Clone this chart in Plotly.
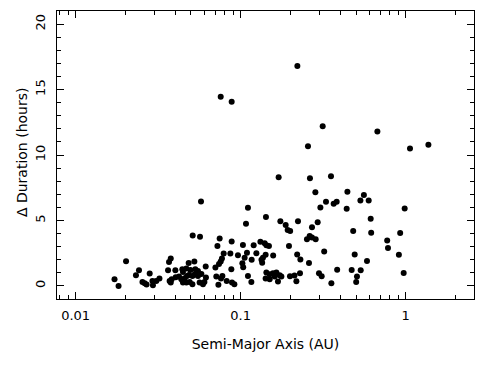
import plotly.graph_objects as go

# Semi-major axis (AU)
semi_major_axis = [
    0.0172, 0.0182, 0.0202, 0.0232, 0.0242, 0.0254, 0.0262, 0.0269, 0.0281, 0.0292,
    0.0294, 0.0308, 0.0322, 0.0368, 0.0377, 0.0363, 0.0371, 0.0377, 0.0382, 0.0402,
    0.0404, 0.0423, 0.0437, 0.0458, 0.0473, 0.0486, 0.0510, 0.0526, 0.0551, 0.0578,
    0.0443, 0.0469, 0.0496, 0.0531, 0.0551, 0.0447, 0.0447, 0.0469, 0.0491, 0.0510,
    0.0564, 0.0591, 0.0603, 0.0616, 0.0484, 0.0524, 0.0614, 0.0512, 0.0567, 0.0575,
    0.0757, 0.0882, 0.0746, 0.0723, 0.0882, 0.0789, 0.0866, 0.0963, 0.0770, 0.0757,
    0.0739, 0.0703, 0.0878, 0.0712, 0.0733, 0.0760, 0.0775, 0.0823, 0.0886, 0.0916,
    0.1032, 0.1199, 0.1317, 0.1398, 0.1431, 0.1484, 0.1962, 0.1092, 0.1245, 0.1365,
    0.1417, 0.1574, 0.1057, 0.1166, 0.1337, 0.1350, 0.1024, 0.1036, 0.2200, 0.1107,
    0.1161, 0.1431, 0.1499, 0.1570, 0.1646, 0.1724, 0.1417, 0.1499, 0.1607, 0.1765,
    0.1683, 0.1990, 0.2119, 0.1107, 0.1077, 0.1423, 0.1740, 0.1874, 0.1927, 0.1995,
    0.2225, 0.1699, 0.2206, 0.2522, 0.2619, 0.2705, 0.2848, 0.3207, 0.2300, 0.2594,
    0.4908, 0.3844, 0.4707, 0.2288, 0.2176, 0.2982, 0.3097, 0.3545, 0.5012, 0.5068,
    0.4807, 0.2705, 0.2929, 0.2836, 0.3041, 0.3289, 0.3661, 0.3818, 0.4390, 0.4434,
    0.5582, 0.5316, 0.5968, 0.2630, 0.3526, 0.2558, 0.3141, 0.6738, 0.986, 0.6137,
    0.6179, 0.926, 0.7725, 0.7811, 0.9094, 0.5828, 0.5338, 0.9725, 1.062, 1.373,
]

# Delta duration (hours)
delta_duration = [
    0.51, 0.00, 1.88, 0.81, 1.20, 0.30, 0.21, 0.11, 0.94, 0.38,
    0.05, 0.38, 0.56, 1.83, 2.09, 1.20, 0.38, 0.26, 0.51, 1.20,
    0.66, 0.72, 0.51, 0.59, 0.76, 0.84, 0.76, 0.87, 0.76, 0.91,
    1.27, 1.33, 1.22, 1.27, 1.14, 1.07, 0.26, 0.26, 0.30, 0.13,
    0.26, 0.13, 0.30, 0.64, 1.75, 1.86, 1.48, 3.86, 3.76, 6.45,
    14.45, 14.07, 3.63, 3.05, 3.40, 2.47, 2.47, 2.34, 2.09, 1.86,
    1.68, 1.40, 1.27, 0.72, 0.08, 0.56, 0.76, 0.38, 0.26, 0.13,
    3.12, 3.10, 3.38, 3.25, 3.10, 3.05, 3.05, 2.54, 2.49, 2.16,
    2.38, 2.32, 2.15, 2.00, 2.00, 1.77, 1.73, 1.42, 2.39, 0.76,
    0.30, 1.02, 0.89, 0.97, 1.02, 0.81, 0.56, 0.51, 0.72, 0.72,
    0.34, 0.74, 0.79, 5.97, 4.75, 5.26, 4.93, 4.65, 4.28, 4.20,
    4.93, 8.30, 16.79, 3.56, 3.81, 3.69, 3.56, 2.62, 2.01, 1.75,
    2.39, 1.23, 1.22, 0.97, 0.36, 0.97, 0.74, 0.21, 0.30, 0.72,
    4.20, 4.49, 4.87, 7.16, 5.99, 6.43, 6.28, 6.43, 5.89, 7.19,
    6.95, 6.53, 6.53, 8.23, 8.38, 10.66, 12.19, 11.80, 5.92, 5.13,
    4.07, 4.05, 3.47, 2.89, 2.38, 1.90, 1.20, 0.99, 10.49, 10.79,
]

x_tick_vals = [0.01, 0.1, 1]
x_tick_text = ["0.01", "0.1", "1"]
x_minor_vals = [0.008, 0.009, 0.02, 0.03, 0.04, 0.05, 0.06, 0.07, 0.08, 0.09,
                0.2, 0.3, 0.4, 0.5, 0.6, 0.7, 0.8, 0.9, 2]
y_tick_vals = [0, 5, 10, 15, 20]
y_title = "Δ Duration (hours)"

font = dict(family="DejaVu Sans", size=13, color="black")

fig = go.Figure(go.Scatter(
    x=semi_major_axis, y=delta_duration, mode="markers",
    marker=dict(color="black", size=6, line=dict(width=0)),
    showlegend=False,
))

fig.update_layout(
    width=491, height=366,
    margin=dict(l=57, r=17, t=11, b=67),
    paper_bgcolor="white", plot_bgcolor="white",
    font=font,
)

fig.update_xaxes(
    type="log", range=[-2.113, 0.414], automargin=False,
    tickmode="array", tickvals=x_tick_vals, ticktext=x_tick_text,
    ticks="inside", ticklen=7, tickwidth=1, tickcolor="black",
    minor=dict(tickmode="array", tickvals=x_minor_vals, ticks="inside",
               ticklen=4, tickwidth=1, tickcolor="black"),
    showline=True, linecolor="black", linewidth=1, mirror="allticks",
    showgrid=False, zeroline=False,
    tickfont=dict(family="DejaVu Sans", size=13, color="black"),
    ticklabelstandoff=4,
    title=dict(text="Semi-Major Axis (AU)",
               font=dict(family="DejaVu Sans", size=14, color="black"),
               standoff=17),
)

fig.update_yaxes(
    range=[-1, 21], automargin=False,
    tickmode="array", tickvals=y_tick_vals,
    ticks="inside", ticklen=7, tickwidth=1, tickcolor="black",
    minor=dict(dtick=1, ticks="inside", ticklen=4, tickwidth=1, tickcolor="black"),
    showline=True, linecolor="black", linewidth=1, mirror="allticks",
    showgrid=False, zeroline=False,
    tickangle=-90,
    tickfont=dict(family="DejaVu Sans", size=13, color="black"),
    ticklabelstandoff=6,
)

fig.add_annotation(
    text=y_title, textangle=-90, showarrow=False,
    xref="paper", yref="paper", x=-0.084, y=0.51,
    xanchor="center", yanchor="middle",
    font=dict(family="DejaVu Sans", size=14, color="black"),
)

fig.write_html("out.html", config={"displayModeBar": False},
               post_script="document.body.style.margin='0';")
